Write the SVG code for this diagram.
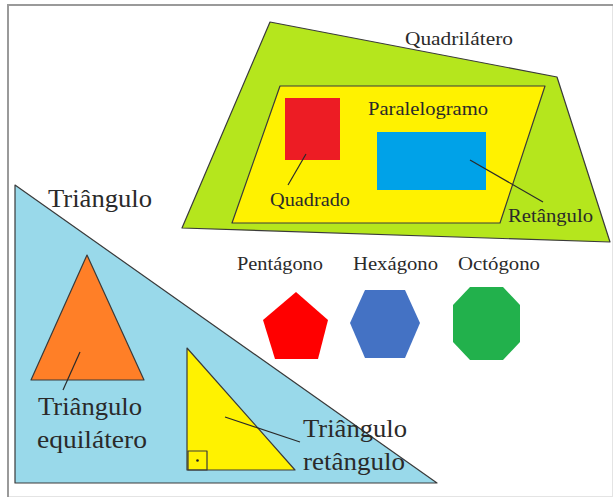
<svg xmlns="http://www.w3.org/2000/svg" width="615" height="499" viewBox="0 0 615 499">
<style>
.sh{stroke:#3a3a3a;stroke-width:1.2;stroke-linejoin:round}
.t{font-family:"Liberation Serif","Times New Roman",serif;fill:#2a2a2a}
.s{font-size:19.5px}
.b{font-size:26px}
.ln{stroke:#2a2a2a;stroke-width:1.2;fill:none}
</style>
<rect x="0" y="0" width="615" height="499" fill="#fff"/>
<rect x="8.5" y="5.5" width="604" height="491" fill="none" stroke="#e4e4e4" stroke-width="1"/>
<path d="M8,497 V5 H613" fill="none" stroke="#9a9a9a" stroke-width="2"/>

<g id="quadrilatero">
<polygon class="sh" points="270,22 557,77 610,242 182,228" fill="#B5E61D"/>
<text class="t s" x="405" y="45" textLength="108" lengthAdjust="spacingAndGlyphs">Quadrilátero</text>
</g>
<g id="paralelogramo">
<polygon class="sh" points="280,86 545,86 500,223 232,223" fill="#FFF200"/>
<text class="t s" x="368" y="115" textLength="120" lengthAdjust="spacingAndGlyphs">Paralelogramo</text>
</g>
<g id="quadrado">
<rect x="285" y="98" width="55" height="62" fill="#ED1C24"/>
<text class="t s" x="270" y="206" textLength="80" lengthAdjust="spacingAndGlyphs">Quadrado</text>
</g>
<g id="retangulo">
<rect x="377" y="132" width="109" height="58" fill="#00A2E8"/>
<text class="t s" x="508" y="222" textLength="85" lengthAdjust="spacingAndGlyphs">Retângulo</text>
</g>

<g id="triangulo">
<polygon class="sh" points="15,185 437,483 15,483" fill="#99D9EA"/>
<text class="t b" x="48" y="207" textLength="104" lengthAdjust="spacingAndGlyphs">Triângulo</text>
</g>
<g id="triangulo-equilatero">
<polygon class="sh" points="87,255 144,380 31,380" fill="#FF7F27"/>
<text class="t b" x="38" y="415" textLength="104" lengthAdjust="spacingAndGlyphs">Triângulo</text>
<text class="t b" x="37" y="448" textLength="110" lengthAdjust="spacingAndGlyphs">equilátero</text>
</g>
<g id="triangulo-retangulo">
<polygon class="sh" points="187,348 295,470 187,470" fill="#FFF200"/>
<rect class="sh" x="188" y="451" width="19" height="19" fill="none"/>
<circle cx="197.5" cy="460.5" r="1.3" fill="#222"/>
<text class="t b" x="303" y="437" textLength="104" lengthAdjust="spacingAndGlyphs">Triângulo</text>
<text class="t b" x="303" y="470" textLength="102" lengthAdjust="spacingAndGlyphs">retângulo</text>
</g>

<g id="pentagono">
<polygon points="296,292 328,320 318,359 275,359 263,320" fill="#FF0000"/>
<text class="t s" x="237" y="270" textLength="86" lengthAdjust="spacingAndGlyphs">Pentágono</text>
</g>
<g id="hexagono">
<polygon points="365,290 405,290 420,323 405,358 365,358 350,323" fill="#4472C4"/>
<text class="t s" x="353" y="270" textLength="85" lengthAdjust="spacingAndGlyphs">Hexágono</text>
</g>
<g id="octogono">
<polygon points="470,287 503,287 520,305 520,342 503,360 470,360 453,342 453,305" fill="#22B14C"/>
<text class="t s" x="458" y="270" textLength="82" lengthAdjust="spacingAndGlyphs">Octógono</text>
</g>

<g id="connectors">
<line class="ln" x1="306" y1="154" x2="288" y2="185"/>
<line class="ln" x1="470" y1="160" x2="543" y2="202"/>
<line class="ln" x1="80" y1="352" x2="63" y2="390"/>
<line class="ln" x1="225" y1="417" x2="300" y2="442"/>
</g>
</svg>
